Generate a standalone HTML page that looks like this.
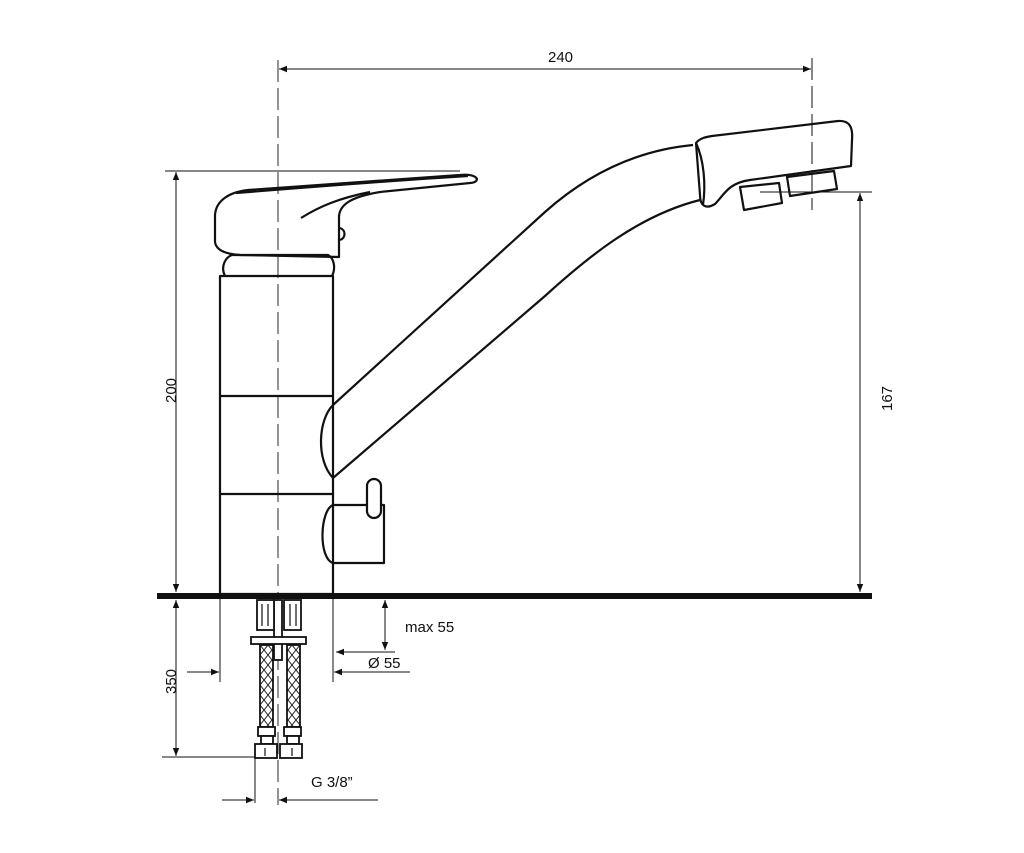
<!DOCTYPE html>
<html><head><meta charset="utf-8"><style>
html,body{margin:0;padding:0;background:#fff;}
svg{display:block;}
text{font-family:"Liberation Sans",Arial,sans-serif;font-size:15px;fill:#111;}
</style></head><body>
<svg width="1024" height="853" viewBox="0 0 1024 853" xmlns="http://www.w3.org/2000/svg">
<defs>
<marker id="a" viewBox="0 0 10 10" refX="10" refY="5" markerWidth="10" markerHeight="8" orient="auto-start-reverse" markerUnits="userSpaceOnUse"><path d="M0,1 L10,5 L0,9 Z" fill="#111"/></marker>
<pattern id="x" width="8" height="10" patternUnits="userSpaceOnUse"><path d="M0,0 L8,10 M8,0 L0,10" stroke="#222" stroke-width="1"/></pattern>
</defs>
<g stroke="#111" fill="none" stroke-width="1">
<line x1="278" y1="60" x2="278" y2="805" stroke-dasharray="22,6" stroke-width="0.9"/>
<line x1="279" y1="69" x2="811" y2="69" marker-start="url(#a)" marker-end="url(#a)"/>
<line x1="812" y1="58" x2="812" y2="210" stroke-dasharray="22,6"/>
<line x1="165" y1="171" x2="460" y2="171"/>
<line x1="176" y1="172" x2="176" y2="592" marker-start="url(#a)" marker-end="url(#a)"/>
<line x1="760" y1="192" x2="872" y2="192"/>
<line x1="860" y1="193" x2="860" y2="592" marker-start="url(#a)" marker-end="url(#a)"/>
<line x1="176" y1="600" x2="176" y2="756" marker-start="url(#a)" marker-end="url(#a)"/>
<line x1="162" y1="757" x2="256" y2="757"/>
<line x1="220" y1="596" x2="220" y2="682"/>
<line x1="333" y1="596" x2="333" y2="682"/>
<line x1="187" y1="672" x2="219" y2="672" marker-end="url(#a)"/>
<line x1="410" y1="672" x2="334" y2="672" marker-end="url(#a)"/>
<line x1="395" y1="652" x2="336" y2="652" marker-end="url(#a)"/>
<line x1="385" y1="600" x2="385" y2="650" marker-start="url(#a)" marker-end="url(#a)"/>
<line x1="255" y1="757" x2="255" y2="803"/>
<line x1="222" y1="800" x2="254" y2="800" marker-end="url(#a)"/>
<line x1="378" y1="800" x2="279" y2="800" marker-end="url(#a)"/>
</g>
<rect x="157" y="593" width="715" height="6" fill="#111"/>
<g stroke="#111" fill="none" stroke-width="2.2" stroke-linejoin="round">
<rect x="220" y="276" width="113" height="318"/>
<line x1="220" y1="396" x2="333" y2="396"/>
<line x1="220" y1="494" x2="333" y2="494"/>
<path d="M225,276 C220,266 226,257 232,255 L328,255 C334,258 336,268 332,276"/>
<path d="M339,257 L240,255 C225,254 216,250 215,242 L215,215 C216,200 230,192 248,190 L460,175 C478,173 482,182 470,183 L380,192 C350,197 340,205 339,216 Z"/>
<path d="M236,193 C300,188 400,180 468,176"/>
<path d="M301,218 C320,206 340,198 370,192"/>
<path d="M340,228 C346,230 346,238 340,240"/>
<!-- spout -->
<path d="M333,405 L545,212 C590,172 640,150 693,145"/>
<path d="M333,478 L545,296 C590,255 640,215 700,200"/>
<path d="M333,405 C318,420 316,460 333,478"/>
<!-- head -->
<path d="M696,143 C700,138 706,137 712,136 L838,121 C850,120 853,128 852,140 L851,166 L750,180 C728,183 724,195 715,204 C705,210 700,205 700,195 Z"/>
<path d="M696,143 C704,160 706,185 703,205"/>
<path d="M740,187 L779,183 L782,203 L744,210 Z"/>
<path d="M787,177 L834,171 L837,189 L790,196 Z"/>
<path d="M333,505 L384,505 L384,563 L333,563"/>
<path d="M333,505 C320,510 318,558 333,563"/>
<rect x="367" y="479" width="14" height="39" rx="7" fill="#fff"/>
</g>
<g stroke="#111" stroke-width="1.8" fill="#fff">
<rect x="274" y="600" width="8" height="60"/>
<rect x="257" y="600" width="17" height="30"/>
<rect x="284" y="600" width="17" height="30"/>
<rect x="251" y="637" width="55" height="7"/>
<rect x="260" y="645" width="13" height="82" fill="url(#x)"/>
<rect x="287" y="645" width="13" height="82" fill="url(#x)"/>
<rect x="258" y="727" width="17" height="9"/>
<rect x="284" y="727" width="17" height="9"/>
<rect x="261" y="736" width="12" height="8"/>
<rect x="287" y="736" width="12" height="8"/>
<rect x="255" y="744" width="22" height="14"/>
<rect x="280" y="744" width="22" height="14"/>
</g>
<g stroke="#111" stroke-width="1.2">
<line x1="262" y1="604" x2="262" y2="626"/><line x1="268" y1="604" x2="268" y2="626"/>
<line x1="290" y1="604" x2="290" y2="626"/><line x1="296" y1="604" x2="296" y2="626"/>
<line x1="265" y1="748" x2="265" y2="756"/><line x1="292" y1="748" x2="292" y2="756"/>
</g>
<text x="548" y="62">240</text>
<text x="405" y="632">max 55</text>
<text x="368" y="668">Ø 55</text>
<text x="311" y="787">G 3/8”</text>
<text transform="translate(176,403) rotate(-90)">200</text>
<text transform="translate(176,694) rotate(-90)">350</text>
<text transform="translate(892,411) rotate(-90)">167</text>
</svg>
</body></html>
